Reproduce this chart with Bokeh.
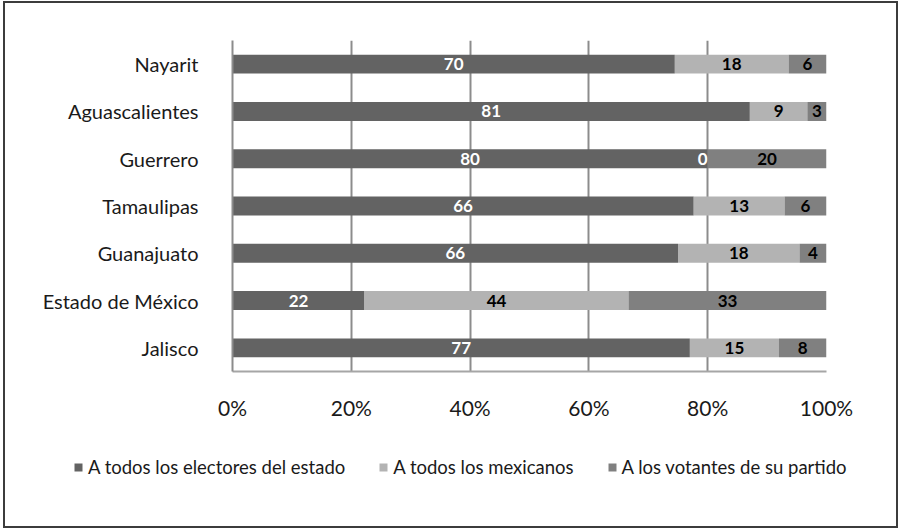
from bokeh.plotting import figure
from bokeh.layouts import column
from bokeh.models import (ColumnDataSource, FixedTicker, PrintfTickFormatter, Legend,
                          LegendItem, FactorRange, Range1d)
from bokeh.core.properties import value
from bokeh.embed import file_html
from bokeh.resources import INLINE

states = ["Nayarit", "Aguascalientes", "Guerrero", "Tamaulipas", "Guanajuato",
          "Estado de México", "Jalisco"]
electores_estado = [70, 81, 80, 66, 66, 22, 77]
todos_mexicanos = [18, 9, 0, 13, 18, 44, 15]
votantes_partido = [6, 3, 20, 6, 4, 33, 8]
series_names = ["A todos los electores del estado", "A todos los mexicanos",
                "A los votantes de su partido"]
x_ticks = [0, 20, 40, 60, 80, 100]

colors = ["#636363", "#b3b3b3", "#808080"]
label_colors = ["#ffffff", "#000000", "#000000"]
FONT = "Lato"

series = [electores_estado, todos_mexicanos, votantes_partido]
totals = [sum(v) for v in zip(*series)]

# the layout sits inside a 2px CSS border (outer box 3..898 x 1..528)
p = figure(width=891, height=420, output_backend="svg", toolbar_location=None,
           y_range=FactorRange(factors=list(reversed(states)), range_padding=0),
           x_range=Range1d(0, 100),
           min_border_left=227, min_border_right=70, min_border_top=37,
           min_border_bottom=52)
p.outline_line_color = None
p.background_fill_color = "white"
p.border_fill_color = "white"

lefts = [0.0] * len(states)
for k, vals in enumerate(series):
    pct = [v / t * 100 for v, t in zip(vals, totals)]
    rights = [l + q for l, q in zip(lefts, pct)]
    centers = [(l + r) / 2 for l, r in zip(lefts, rights)]
    tcol = [label_colors[k] if v > 0 else "#ffffff" for v in vals]
    talign = ["center" if v > 0 else "right" for v in vals]
    src = ColumnDataSource(dict(state=states, left=lefts, right=rights, center=centers,
                                label=[str(v) for v in vals], tcol=tcol, talign=talign))
    p.hbar(y="state", left="left", right="right", height=0.4, source=src,
           fill_color=colors[k], line_color=None)
    p.text(x="center", y="state", text="label", source=src, text_color="tcol",
           text_align="talign", text_baseline="middle", text_font=value(FONT),
           text_font_style="bold", text_font_size="17px")
    lefts = rights

# axes
p.xaxis.ticker = FixedTicker(ticks=x_ticks)
p.xaxis.formatter = PrintfTickFormatter(format="%d%%")
p.xaxis.major_label_text_font = FONT
p.xaxis.major_label_text_font_size = "21px"
p.xaxis.major_label_text_color = "#1a1a1a"
p.xaxis.major_label_standoff = 17
p.xaxis.major_tick_line_color = None
p.xaxis.minor_tick_line_color = None
p.xaxis.axis_line_color = "#a6a6a6"
p.xaxis.axis_line_width = 2

p.yaxis.major_label_text_font = FONT
p.yaxis.major_label_text_font_size = "20px"
p.yaxis.major_label_text_color = "#1a1a1a"
p.yaxis.major_label_standoff = 28
p.yaxis.major_tick_line_color = None
p.yaxis.minor_tick_line_color = None
p.yaxis.axis_line_color = "#8c8c8c"
p.yaxis.axis_line_width = 2

p.xgrid.ticker = FixedTicker(ticks=x_ticks)
p.xgrid.grid_line_color = "#8c8c8c"
p.xgrid.grid_line_width = 2
p.ygrid.grid_line_color = None

# legend strip below the chart (its frame fills its whole canvas)
pl = figure(width=891, height=103, output_backend="svg", toolbar_location=None,
            x_range=Range1d(0, 1), y_range=Range1d(0, 1),
            x_axis_location=None, y_axis_location=None,
            min_border=0, min_border_left=0, min_border_right=0,
            min_border_top=0, min_border_bottom=0)
pl.outline_line_color = None
pl.xgrid.grid_line_color = None
pl.ygrid.grid_line_color = None
for fig in (p, pl):
    if hasattr(fig, "frame_align"):
        fig.frame_align = False

leg_renderers = []
for k in range(3):
    r = pl.hbar(y=[-5], left=[0], right=[0.1], height=0.4,
                fill_color=colors[k], line_color=None)
    leg_renderers.append(r)

legend = Legend(items=[LegendItem(label=series_names[k], renderers=[leg_renderers[k]])
                       for k in range(3)],
                orientation="horizontal", location=(68, 48),
                glyph_width=10, glyph_height=10, label_standoff=5, spacing=33,
                padding=0, margin=0, border_line_color=None,
                background_fill_alpha=0,
                label_text_font=FONT, label_text_font_size="18.5px",
                label_text_color="#1a1a1a")
pl.add_layout(legend, "center")

layout = column(p, pl, spacing=0)
layout.styles = {"border": "2px solid #3c3c3c", "margin-left": "3px", "margin-top": "1px"}

open("out.html", "w").write(file_html(layout, INLINE))
